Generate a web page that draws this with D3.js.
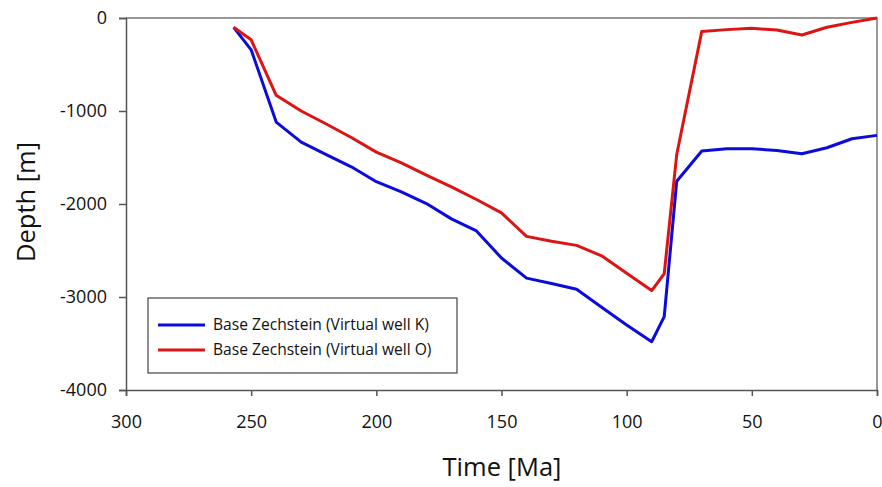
<!DOCTYPE html>
<html>
<head>
<meta charset="utf-8">
<script src="https://cdn.jsdelivr.net/npm/d3@7"></script>
<style>
  html, body { margin: 0; padding: 0; background: #fff; }
  svg { display: block; font-family: "Open Sans", "Liberation Sans", sans-serif; }
</style>
</head>
<body>
<svg id="chart" width="882" height="487"></svg>
<script>
// Burial history of the Base Zechstein horizon at two virtual wells
const timeMa = [257, 250, 240, 230, 220, 210, 200, 190, 180, 170, 160, 150, 140, 130, 120, 110, 100, 90, 85, 80, 70, 60, 50, 40, 30, 20, 10, 0];
const depthWellK = [-100, -342, -1119, -1334, -1470, -1600, -1760, -1870, -1995, -2160, -2290, -2581, -2797, -2855, -2916, -3110, -3300, -3481, -3211, -1755, -1431, -1405, -1405, -1424, -1460, -1395, -1298, -1262];
const depthWellO = [-100, -234, -831, -1000, -1140, -1285, -1442, -1557, -1690, -1815, -1952, -2096, -2348, -2400, -2445, -2557, -2745, -2931, -2750, -1467, -144, -125, -111, -129, -183, -100, -47, 0];

const xTicks = [300, 250, 200, 150, 100, 50, 0];
const yTicks = [0, -1000, -2000, -3000, -4000];

const seriesNames = ["Base Zechstein (Virtual well K)", "Base Zechstein (Virtual well O)"];
const seriesColors = ["#0b0bdc", "#dc1414"];

const svg = d3.select("#chart");
const plot = { left: 126, right: 877, top: 18, bottom: 390 };

const x = d3.scaleLinear().domain([300, 0]).range([plot.left, plot.right]);
const y = d3.scaleLinear().domain([-4000, 0]).range([plot.bottom, plot.top]);

const axisColor = "#555";
const plain = d => String(d);

// frame on top and right
svg.append("path")
  .attr("d", `M${plot.left},${plot.top}H${plot.right}V${plot.bottom}`)
  .attr("fill", "none").attr("stroke", "#777").attr("stroke-width", 1.5);

const xAxis = svg.append("g")
  .attr("transform", `translate(0,${plot.bottom})`)
  .call(d3.axisBottom(x).tickValues(xTicks).tickSize(6).tickPadding(19).tickFormat(plain));
const yAxis = svg.append("g")
  .attr("transform", `translate(${plot.left},0)`)
  .call(d3.axisLeft(y).tickValues(yTicks).tickSize(7).tickPadding(12).tickFormat(plain));

[xAxis, yAxis].forEach(g => {
  g.attr("font-size", 18).attr("font-family", "'Open Sans', sans-serif");
  g.select(".domain").attr("stroke", axisColor).attr("stroke-width", 1.5);
  g.selectAll(".tick line").attr("stroke", axisColor).attr("stroke-width", 1.5);
  g.selectAll(".tick text").attr("fill", "#111").attr("font-size", 18);
});

// data lines
const line = d3.line().x((d, i) => x(timeMa[i])).y(d => y(d));
[depthWellK, depthWellO].forEach((vals, i) => {
  svg.append("path")
    .datum(vals)
    .attr("d", line)
    .attr("fill", "none")
    .attr("stroke", seriesColors[i])
    .attr("stroke-width", 3)
    .attr("stroke-linejoin", "round");
});

// axis titles
svg.append("text")
  .attr("x", 502).attr("y", 476)
  .attr("text-anchor", "middle").attr("fill", "#111")
  .attr("font-size", 25.5).text("Time [Ma]");
svg.append("text")
  .attr("transform", `translate(35,${(plot.top + plot.bottom) / 2 - 2}) rotate(-90)`)
  .attr("text-anchor", "middle").attr("fill", "#111")
  .attr("font-size", 25.5).text("Depth [m]");

// legend
const legend = svg.append("g").attr("transform", "translate(148,298)");
legend.append("rect")
  .attr("width", 309).attr("height", 75)
  .attr("fill", "#fff").attr("stroke", "#444").attr("stroke-width", 1.2);
seriesNames.forEach((name, i) => {
  const ly = 27 + i * 25;
  legend.append("line")
    .attr("x1", 10).attr("x2", 57).attr("y1", ly).attr("y2", ly)
    .attr("stroke", seriesColors[i]).attr("stroke-width", 3);
  legend.append("text")
    .attr("x", 65).attr("y", ly).attr("dy", "0.35em")
    .attr("fill", "#111").attr("font-size", 15.6).text(name);
});
</script>
</body>
</html>
